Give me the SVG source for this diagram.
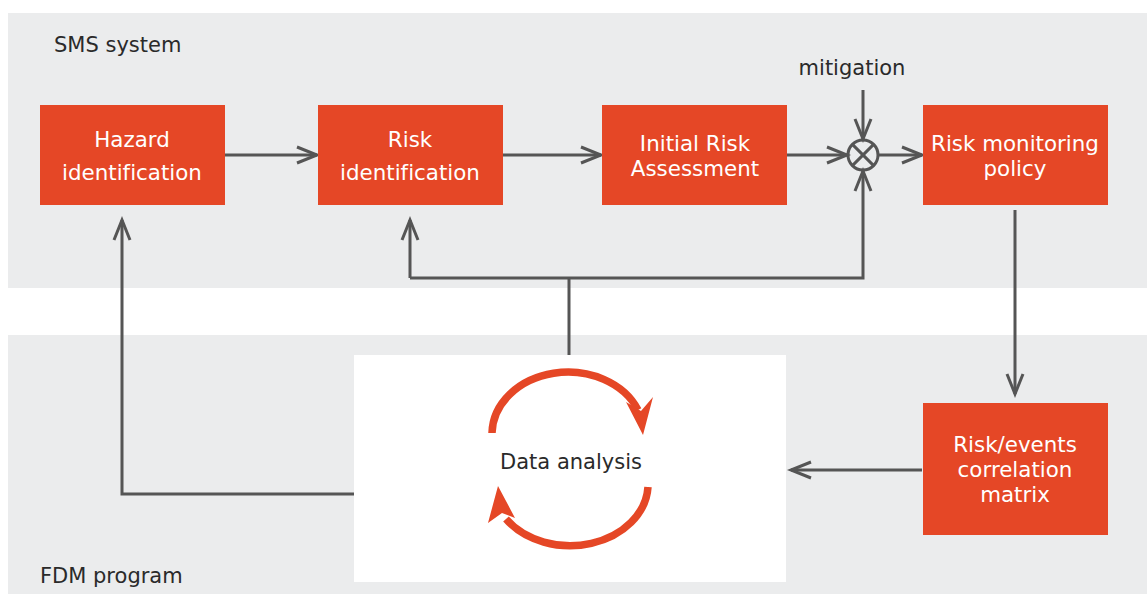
<svg xmlns="http://www.w3.org/2000/svg" width="1147" height="594" viewBox="0 0 1147 594">
<defs>
<style>
.band{fill:#ebeced}
.box{fill:#e54726}
.bt{font-family:"DejaVu Sans","Liberation Sans",sans-serif;font-size:21.4px;fill:#ffffff;text-anchor:middle;font-variant-ligatures:none}
.lbl{font-family:"DejaVu Sans","Liberation Sans",sans-serif;font-size:21px;fill:#2a2a2a;font-variant-ligatures:none}
.ln{fill:none;stroke:#555555;stroke-width:3}
.ar{fill:none;stroke:#555555;stroke-width:3;marker-end:url(#chev)}
.cyc{fill:none;stroke:#e54726;stroke-width:7.5}
</style>
<marker id="chev" viewBox="0 0 24 20" refX="22" refY="10" markerWidth="24" markerHeight="20" markerUnits="userSpaceOnUse" orient="auto" overflow="visible">
<path d="M2,2 L22,10 L2,18" fill="none" stroke="#555555" stroke-width="3"/>
</marker>
</defs>
<rect class="band" x="8" y="13" width="1139" height="275"/>
<rect class="band" x="8" y="335" width="1139" height="259"/>
<text class="lbl" x="54" y="52">SMS system</text>
<text class="lbl" x="40" y="583">FDM program</text>

<g id="connectors">
<line class="ar" x1="222" y1="155" x2="317" y2="155"/>
<line class="ar" x1="500" y1="155" x2="601" y2="155"/>
<line class="ar" x1="780" y1="155" x2="847" y2="155"/>
<line class="ar" x1="878" y1="155" x2="922" y2="155"/>
<line class="ar" x1="863" y1="90" x2="863" y2="139"/>
<polyline class="ln" points="569,355 569,278"/>
<polyline class="ar" points="410,278 863,278 863,171"/>
<line class="ar" x1="410" y1="278" x2="410" y2="220"/>
<polyline class="ar" points="354,494 122,494 122,220"/>
<line class="ar" x1="1015" y1="210" x2="1015" y2="394"/>
<line class="ar" x1="922" y1="470" x2="791" y2="470"/>
</g>

<g id="junction">
<circle cx="863" cy="155" r="15" fill="none" stroke="#555555" stroke-width="3"/>
<line x1="852.4" y1="144.4" x2="873.6" y2="165.6" stroke="#555555" stroke-width="3"/>
<line x1="873.6" y1="144.4" x2="852.4" y2="165.6" stroke="#555555" stroke-width="3"/>
</g>
<text class="lbl" x="852" y="75" text-anchor="middle">mitigation</text>

<g id="hazard"><rect class="box" x="40" y="105" width="185" height="100"/><text class="bt" x="132" y="147">Hazard</text><text class="bt" x="132" y="180">identification</text></g>
<g id="riskid"><rect class="box" x="318" y="105" width="185" height="100"/><text class="bt" x="410" y="147">Risk</text><text class="bt" x="410" y="180">identification</text></g>
<g id="initial"><rect class="box" x="602" y="105" width="185" height="100"/><text class="bt" x="695" y="151">Initial Risk</text><text class="bt" x="695" y="176">Assessment</text></g>
<g id="monitor"><rect class="box" x="923" y="105" width="185" height="100"/><text class="bt" x="1015" y="151">Risk monitoring</text><text class="bt" x="1015" y="176">policy</text></g>
<g id="matrix"><rect class="box" x="923" y="403" width="185" height="132"/><text class="bt" x="1015" y="452">Risk/events</text><text class="bt" x="1015" y="477">correlation</text><text class="bt" x="1015" y="502">matrix</text></g>

<g id="data">
<rect x="354" y="355" width="432" height="227" fill="#ffffff"/>
<path class="cyc" d="M492,433 A76,62 0 0 1 638,410"/>
<polygon fill="#e54726" points="643,435 626,402 641,411 653,397"/>
<path class="cyc" d="M648,487 A78,62 0 0 1 506,519"/>
<polygon fill="#e54726" points="498,486 488,523 502,513 515,518"/>
<text class="lbl" x="571" y="469" text-anchor="middle">Data analysis</text>
</g>
</svg>
